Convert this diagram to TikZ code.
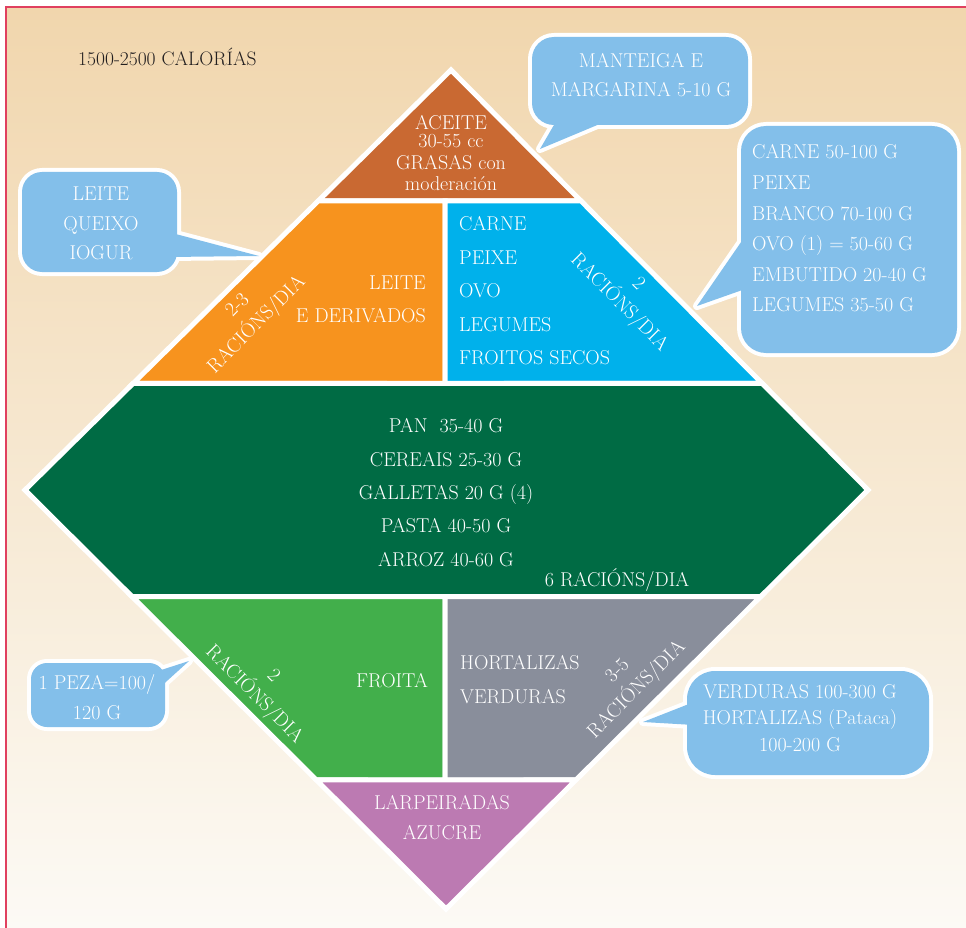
\documentclass[tikz,border=0pt]{standalone}
\usepackage{fontspec}
\usetikzlibrary{calc}
\definecolor{bgtop}{HTML}{F1D6AD}
\definecolor{bgmid}{HTML}{F5E3C8}
\definecolor{bgbot}{HTML}{FCFAF5}
\definecolor{frameRed}{HTML}{E0405F}
\definecolor{cBrown}{HTML}{C96932}
\definecolor{cOrange}{HTML}{F7931E}
\definecolor{cCyan}{HTML}{00B1EB}
\definecolor{cDark}{HTML}{006B44}
\definecolor{cGreen}{HTML}{42AF4B}
\definecolor{cGray}{HTML}{898E9B}
\definecolor{cPurple}{HTML}{BC7AB2}
\definecolor{cBubble}{HTML}{83BFEA}
\definecolor{cTitle}{HTML}{231F20}
\begin{document}
\begin{tikzpicture}[x=1pt,y=-1pt,
  piece/.style={draw=white, line width=5pt, line join=miter},
  bubbleline/.style={draw=white, line width=8pt, line join=round},
  bubblefill/.style={fill=cBubble},
  lbl/.style={text=white, inner sep=0pt, font=\fontsize{20}{24}\selectfont},
  lblsk/.style={text=white, inner sep=0pt, font=\fontsize{20}{#1}\selectfont},
  rotlbl/.style={text=white, inner sep=0pt, align=center, font=\fontsize{20}{27}\selectfont}]
\useasboundingbox (0,0) rectangle (966,928);
% background
\fill[white] (0,0) rectangle (966,928);
\shade[top color=bgtop, middle color=bgmid, bottom color=bgbot] (6,7) rectangle (966,928);
\draw[frameRed, line width=1.5pt] (6,928) -- (6,7) -- (966,7);

% pyramid geometry
\coordinate (T) at (451,70);
\coordinate (L) at (25,490);
\coordinate (R) at (868,490);
\coordinate (B) at (446,909);
\coordinate (a1) at ($(T)!0.3119!(L)$);
\coordinate (b1) at ($(T)!0.3119!(R)$);
\coordinate (a2) at ($(T)!0.7464!(L)$);
\coordinate (b2) at ($(T)!0.7464!(R)$);
\coordinate (a3) at ($(L)!0.2542!(B)$);
\coordinate (b3) at ($(R)!0.2542!(B)$);
\coordinate (a4) at ($(L)!0.6921!(B)$);
\coordinate (b4) at ($(R)!0.6921!(B)$);
\coordinate (m1) at (445,201);
\coordinate (m2) at (445,383.5);
\coordinate (m3) at (445,596.5);
\coordinate (m4) at (445,780);

\path[piece, fill=cBrown] (T) -- (b1) -- (a1) -- cycle;
\path[piece, fill=cOrange] (a1) -- (m1) -- (m2) -- (a2) -- cycle;
\path[piece, fill=cCyan] (m1) -- (b1) -- (b2) -- (m2) -- cycle;
\path[piece, fill=cDark] (a2) -- (b2) -- (R) -- (b3) -- (a3) -- (L) -- cycle;
\path[piece, fill=cGreen] (a3) -- (m3) -- (m4) -- (a4) -- cycle;
\path[piece, fill=cGray] (m3) -- (b3) -- (b4) -- (m4) -- cycle;
\path[piece, fill=cPurple] (a4) -- (b4) -- (B) -- cycle;

% callouts: outlines first
\path[bubbleline, rounded corners=22pt] (532,37) rectangle (748,125);
\path[bubbleline] (558,118) -- (540,149) -- (614,118) -- cycle;
\path[bubbleline, rounded corners=20pt] (22,172) rectangle (177,272);
\path[bubbleline] (168,232) -- (259,256) -- (168,257) -- cycle;
\path[bubbleline, rounded corners=25pt] (741,126) rectangle (957,353);
\path[bubbleline] (748,232) -- (697,306) -- (748,288) -- cycle;
\path[bubbleline, rounded corners=16pt] (31,663) rectangle (165,727);
\path[bubbleline] (155,672) -- (189,661) -- (157,690) -- cycle;
\path[bubbleline, rounded corners=28pt] (687,671) rectangle (929,775);
\path[bubbleline] (694,702) -- (643,722) -- (694,725) -- cycle;
% callouts: fills
\path[bubblefill, rounded corners=22pt] (532,37) rectangle (748,125);
\path[bubblefill] (558,118) -- (540,149) -- (614,118) -- cycle;
\path[bubblefill, rounded corners=20pt] (22,172) rectangle (177,272);
\path[bubblefill] (168,232) -- (259,256) -- (168,257) -- cycle;
\path[bubblefill, rounded corners=25pt] (741,126) rectangle (957,353);
\path[bubblefill] (748,232) -- (697,306) -- (748,288) -- cycle;
\path[bubblefill, rounded corners=16pt] (31,663) rectangle (165,727);
\path[bubblefill] (155,672) -- (189,661) -- (157,690) -- cycle;
\path[bubblefill, rounded corners=28pt] (687,671) rectangle (929,775);
\path[bubblefill] (694,702) -- (643,722) -- (694,725) -- cycle;

% title
\node[anchor=west, inner sep=0pt, text=cTitle, font=\fontsize{19.5}{23}\selectfont] (title) at (78,56.5) {1500-2500 CALORÍAS};

% texts in pyramid
\node[lblsk=21.5, align=center] (fat) at (451,153) {ACEITE\\[-3pt]30-55 cc\\GRASAS con\\moderación};
\node[lblsk=33, align=right, anchor=east] (milk) at (426,299.5) {LEITE\\E DERIVADOS};
\node[rotlbl, rotate=45] (milkr) at (248,316) {2-3\\RACIÓNS/DIA};
\node[lblsk=33.5, align=left, anchor=west] (meat) at (459,291) {CARNE\\PEIXE\\OVO\\LEGUMES\\FROITOS SECOS};
\node[rotlbl, rotate=-45] (meatr) at (628,294) {2\\RACIÓNS/DIA};
\node[lblsk=33.3, align=center] (cereal) at (446,492.5) {PAN\ \ 35-40 G\\CEREAIS 25-30 G\\GALLETAS 20 G (4)\\PASTA 40-50 G\\ARROZ 40-60 G};
\node[lbl] (cerealr) at (617,580) {6 RACIÓNS/DIA};
\node[lbl] (fruit) at (392,681) {FROITA};
\node[rotlbl, rotate=-45] (fruitr) at (263,686) {2\\RACIÓNS/DIA};
\node[lblsk=34, align=left, anchor=west] (veg) at (460,680) {HORTALIZAS\\VERDURAS};
\node[rotlbl, rotate=45] (vegr) at (628,681) {3-5\\RACIÓNS/DIA};
\node[lblsk=30, align=center] (sweet) at (442,818) {LARPEIRADAS\\AZUCRE};

% texts in callouts
\node[lblsk=29, align=center] (butter) at (641,75.5) {MANTEIGA E\\MARGARINA 5-10 G};
\node[lblsk=29.5, align=center] (dairy) at (101,223.5) {LEITE\\QUEIXO\\IOGUR};
\node[lblsk=30.6, align=left, anchor=west] (meatq) at (752,228.5) {CARNE 50-100 G\\PEIXE\\BRANCO 70-100 G\\OVO (1) = 50-60 G\\EMBUTIDO 20-40 G\\LEGUMES 35-50 G};
\node[lblsk=30, align=center] (piece) at (97,697) {1 PEZA=100/\\120 G};
\node[lblsk=26.5, align=center] (vegq) at (800,718) {VERDURAS 100-300 G\\HORTALIZAS (Pataca)\\100-200 G};
\end{tikzpicture}
\end{document}
